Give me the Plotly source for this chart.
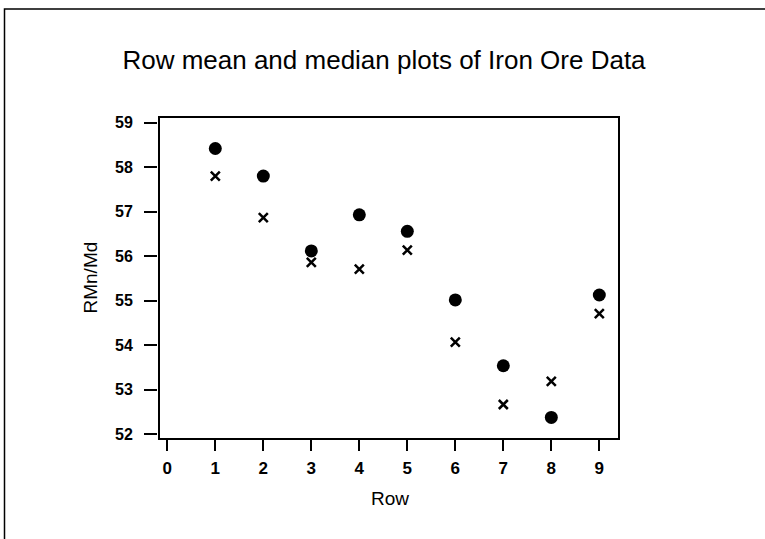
import plotly.graph_objects as go

rows = [1, 2, 3, 4, 5, 6, 7, 8, 9]
row_means = [58.42, 57.80, 56.12, 56.93, 56.56, 55.02, 53.54, 52.38, 55.13]
row_medians = [57.80, 56.87, 55.86, 55.71, 56.14, 54.07, 52.67, 53.19, 54.71]
x_ticks = [0, 1, 2, 3, 4, 5, 6, 7, 8, 9]
y_ticks = [52, 53, 54, 55, 56, 57, 58, 59]

FONT = "Liberation Sans, Arial, Helvetica, sans-serif"

# paper area: x from 157 px, 462 px wide; y from 439 px (bottom), 322 px tall
def px(x):
    return (x - 157) / 462

def py(y):
    return (439 - y) / 322

fig = go.Figure()
fig.add_trace(go.Scatter(
    x=rows, y=row_means, mode="markers", name="Row mean",
    marker=dict(symbol="circle", size=13, color="black"),
))
fig.add_trace(go.Scatter(
    x=rows, y=row_medians, mode="markers", name="Row median",
    marker=dict(symbol="x-thin", size=9, color="black",
                line=dict(color="black", width=2.5)),
))

fig.update_layout(
    width=765, height=539,
    margin=dict(l=157, r=146, t=117, b=100),
    paper_bgcolor="white", plot_bgcolor="white",
    showlegend=False,
    font=dict(family=FONT, color="black"),
    title=dict(text="Row mean and median plots of Iron Ore Data",
               x=384 / 765, xref="container", xanchor="center",
               y=1 - 60 / 539, yref="container", yanchor="middle",
               font=dict(size=26, family=FONT, color="black")),
    xaxis=dict(domain=[2 / 462, 1], range=[-0.173, 9.41],
               tickvals=x_ticks, ticks="outside", ticklen=11,
               tickwidth=1.5, tickcolor="black", showline=False,
               showgrid=False, zeroline=False, ticklabelstandoff=3,
               tickfont=dict(size=17, family=FONT, color="black",
                             weight="bold")),
    yaxis=dict(anchor="free", position=0, range=[51.895, 59.128],
               tickvals=y_ticks, ticks="outside", ticklen=13,
               tickwidth=1.5, tickcolor="black", showline=False,
               showgrid=False, zeroline=False, ticklabelstandoff=8,
               tickfont=dict(size=16, family=FONT, color="black",
                             weight="bold")),
    shapes=[
        dict(type="rect", xref="x domain", yref="y domain",
             x0=0, x1=1, y0=0, y1=1,
             line=dict(color="black", width=2), fillcolor="rgba(0,0,0,0)"),
        dict(type="rect", xref="paper", yref="paper",
             x0=px(4.5), x1=px(790),
             y0=py(580), y1=py(9),
             line=dict(color="black", width=1.5), fillcolor="rgba(0,0,0,0)",
             layer="below"),
    ],
    annotations=[
        dict(text="Row", xref="paper", yref="paper",
             x=px(389.5), y=py(498),
             xanchor="center", yanchor="middle", showarrow=False,
             font=dict(size=19, family=FONT, color="black")),
        dict(text="RMn/Md", xref="paper", yref="paper",
             x=px(89.5), y=py(278), textangle=-90,
             xanchor="center", yanchor="middle", showarrow=False,
             font=dict(size=19, family=FONT, color="black")),
    ],
)

fig.write_html("out.html")
